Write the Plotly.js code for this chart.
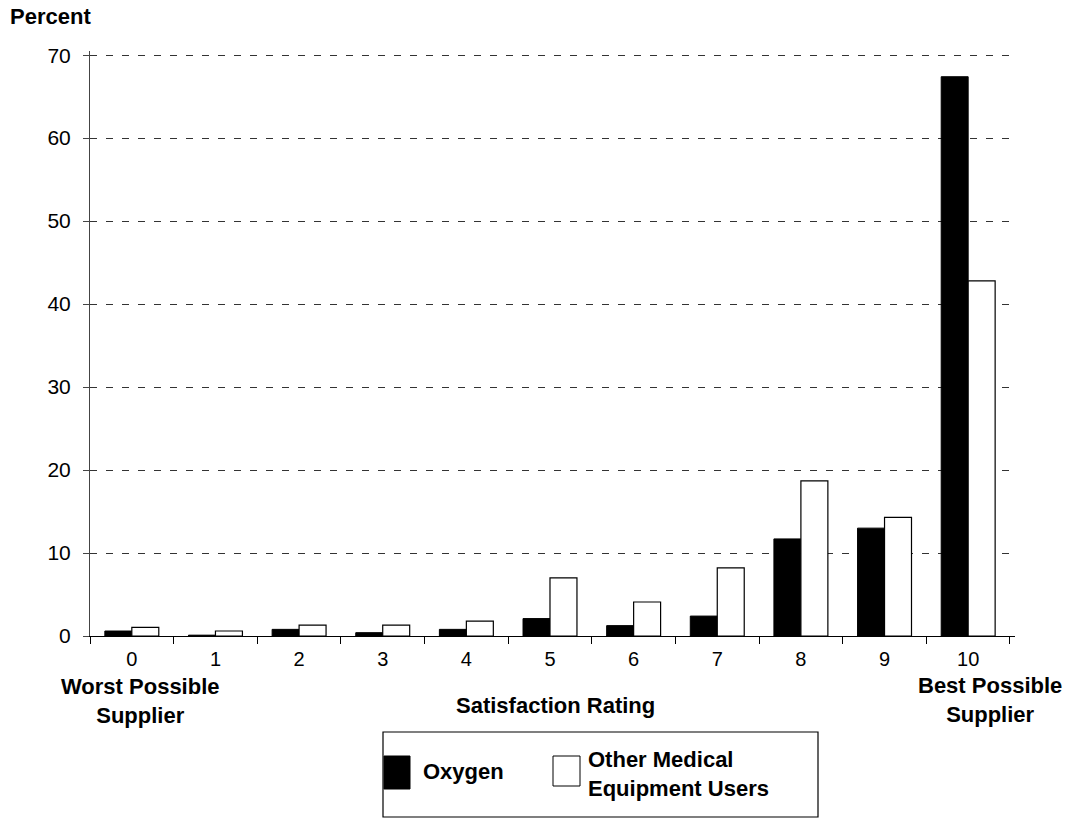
<!DOCTYPE html>
<html>
<head>
<meta charset="utf-8">
<script src="https://cdn.plot.ly/plotly-3.0.1.min.js"></script>
<style>
  html, body { margin: 0; padding: 0; background: #fff; }
  #chart { width: 1076px; height: 820px; }
</style>
</head>
<body>
<div id="chart"></div>
<script>
// Satisfaction rating categories (0 = worst, 10 = best)
const ratings = ["0", "1", "2", "3", "4", "5", "6", "7", "8", "9", "10"];

// Percent of respondents giving each rating
const oxygen = [0.6, 0.1, 0.8, 0.4, 0.8, 2.1, 1.25, 2.4, 11.7, 13.0, 67.4];
const otherEquipment = [1.05, 0.6, 1.3, 1.3, 1.8, 7.0, 4.1, 8.2, 18.7, 14.3, 42.8];

const yTicks = [0, 10, 20, 30, 40, 50, 60, 70];

const seriesNames = ["Oxygen", "Other Medical<br>Equipment Users"];

// Plot area in pixels
const W = 1076, H = 820;
const M = { l: 90, r: 61, t: 51, b: 184 };
const pw = W - M.l - M.r, ph = H - M.t - M.b;
const px = x => (x - M.l) / pw;          // pixel x -> paper
const py = y => (H - M.b - y) / ph;      // pixel y -> paper

const FAMILY = "Liberation Sans, Arial, Helvetica, sans-serif";
const tickFont = { family: FAMILY, size: 20, color: "#000" };
const bold = { family: FAMILY, size: 22, color: "#000", weight: "bold" };

const traces = [
  {
    type: "bar", name: seriesNames[0], x: ratings, y: oxygen,
    marker: { color: "#000", line: { color: "#000", width: 1 } },
    showlegend: false, hoverinfo: "x+y"
  },
  {
    type: "bar", name: seriesNames[1], x: ratings, y: otherEquipment,
    marker: { color: "#fff", line: { color: "#000", width: 1.2 } },
    showlegend: false, hoverinfo: "x+y"
  }
];

const layout = {
  width: W, height: H,
  margin: M,
  paper_bgcolor: "#fff", plot_bgcolor: "#fff",
  font: tickFont,
  barmode: "group",
  bargap: 0.355,
  bargroupgap: 0,
  xaxis: {
    type: "category",
    range: [-0.5, 10.56],
    tickson: "boundaries",
    ticks: "outside", ticklen: 7, tickcolor: "#000", tickwidth: 1,
    ticklabelstandoff: 5,
    showgrid: false,
    showline: true, linecolor: "#000", linewidth: 1,
    tickfont: tickFont,
    zeroline: false
  },
  yaxis: {
    range: [0, 70.5],
    tickvals: yTicks,
    showgrid: true, gridcolor: "#333", gridwidth: 1, griddash: "7px,9px",
    showline: true, linecolor: "#444", linewidth: 1,
    ticks: "outside", ticklen: 6, tickcolor: "#444", tickwidth: 1,
    ticklabelstandoff: 8,
    tickfont: Object.assign({}, tickFont, { size: 21 }),
    zeroline: false
  },
  shapes: [
    // legend frame
    { type: "rect", xref: "paper", yref: "paper",
      x0: px(383), x1: px(818), y0: py(817), y1: py(732),
      line: { color: "#000", width: 1.2 }, fillcolor: "rgba(0,0,0,0)" },
    // legend swatches
    { type: "rect", xref: "paper", yref: "paper",
      x0: px(384), x1: px(410), y0: py(789), y1: py(756),
      line: { color: "#000", width: 1 }, fillcolor: "#000" },
    { type: "rect", xref: "paper", yref: "paper",
      x0: px(553), x1: px(580), y0: py(786), y1: py(756),
      line: { color: "#000", width: 1 }, fillcolor: "#fff" }
  ],
  annotations: [
    { text: "Percent", xref: "paper", yref: "paper", x: px(8), y: py(17),
      xanchor: "left", yanchor: "middle", showarrow: false, font: bold },
    { text: "Worst Possible<br>Supplier", xref: "paper", yref: "paper", x: px(140), y: py(701),
      xanchor: "center", yanchor: "middle", showarrow: false, font: bold, align: "center" },
    { text: "Satisfaction Rating", xref: "paper", yref: "paper", x: px(555), y: py(705),
      xanchor: "center", yanchor: "middle", showarrow: false, font: bold },
    { text: "Best Possible<br>Supplier", xref: "paper", yref: "paper", x: px(990), y: py(700),
      xanchor: "center", yanchor: "middle", showarrow: false, font: bold, align: "center" },
    { text: seriesNames[0], xref: "paper", yref: "paper", x: px(421), y: py(771),
      xanchor: "left", yanchor: "middle", showarrow: false, font: bold },
    { text: seriesNames[1], xref: "paper", yref: "paper", x: px(586), y: py(774),
      xanchor: "left", yanchor: "middle", showarrow: false, font: bold, align: "left" }
  ]
};

Plotly.newPlot("chart", traces, layout, { displayModeBar: false, staticPlot: true });
</script>
</body>
</html>
